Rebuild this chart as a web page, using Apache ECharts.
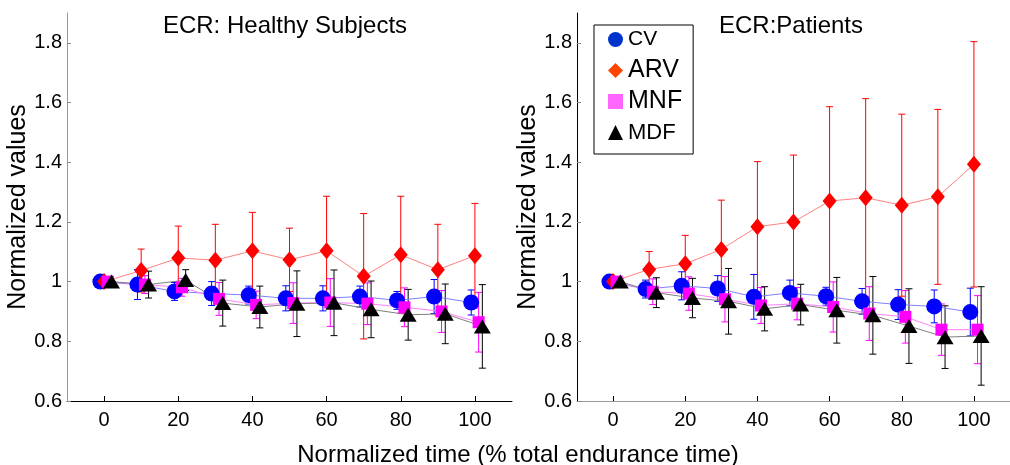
<!DOCTYPE html>
<html>
<head>
<meta charset="utf-8">
<script src="https://cdn.jsdelivr.net/npm/echarts@6/dist/echarts.min.js"></script>
<style>
  html, body { margin: 0; padding: 0; background: #fff; }
  #chart { width: 1010px; height: 465px; }
</style>
</head>
<body>
<div id="chart"></div>
<script>
// x positions (each variable is shifted a little so the markers don't overlap)
const timeCV = [-1, 9, 19, 29, 39, 49, 59, 69, 79, 89, 99]
const timeARV = [0, 10, 20, 30, 40, 50, 60, 70, 80, 90, 100]
const timeMNF = [1, 11, 21, 31, 41, 51, 61, 71, 81, 91, 101]
const timeMDF = [2, 12, 22, 32, 42, 52, 62, 72, 82, 92, 102]

const xTicks = [0, 20, 40, 60, 80, 100]
const yTicks = [0.6, 0.8, 1, 1.2, 1.4, 1.6, 1.8]

// healthy subjects: mean / sd
const healthyCV = [1.0, 0.99, 0.967, 0.96, 0.955, 0.944, 0.944, 0.95, 0.937, 0.95, 0.93]
const healthyCVsd = [0.01, 0.05, 0.03, 0.04, 0.03, 0.042, 0.042, 0.035, 0.03, 0.057, 0.042]
const healthyARV = [1.0, 1.037, 1.079, 1.072, 1.103, 1.073, 1.103, 1.018, 1.09, 1.04, 1.087]
const healthyARVsd = [0.01, 0.072, 0.107, 0.12, 0.129, 0.106, 0.183, 0.21, 0.196, 0.152, 0.175]
const healthyMNF = [1.0, 0.99, 0.981, 0.942, 0.922, 0.928, 0.93, 0.926, 0.914, 0.9, 0.864]
const healthyMNFsd = [0.01, 0.03, 0.03, 0.055, 0.046, 0.068, 0.08, 0.07, 0.065, 0.07, 0.1]
const healthyMDF = [1.0, 0.99, 1.005, 0.928, 0.915, 0.926, 0.929, 0.907, 0.889, 0.892, 0.85]
const healthyMDFsd = [0.01, 0.045, 0.035, 0.077, 0.07, 0.11, 0.11, 0.095, 0.085, 0.1, 0.14]

// patients: mean / sd
const patientCV = [1.0, 0.975, 0.986, 0.977, 0.949, 0.962, 0.951, 0.934, 0.923, 0.917, 0.898]
const patientCVsd = [0.01, 0.03, 0.047, 0.043, 0.075, 0.043, 0.03, 0.043, 0.05, 0.055, 0.08]
const patientARV = [1.0, 1.041, 1.06, 1.108, 1.184, 1.2, 1.27, 1.281, 1.256, 1.284, 1.393]
const patientARVsd = [0.01, 0.06, 0.095, 0.165, 0.218, 0.224, 0.316, 0.332, 0.305, 0.293, 0.411]
const patientMNF = [1.0, 0.966, 0.96, 0.941, 0.92, 0.926, 0.915, 0.893, 0.882, 0.839, 0.839]
const patientMNFsd = [0.01, 0.043, 0.056, 0.076, 0.06, 0.054, 0.084, 0.09, 0.088, 0.086, 0.114]
const patientMDF = [1.0, 0.963, 0.945, 0.934, 0.909, 0.923, 0.904, 0.887, 0.851, 0.814, 0.818]
const patientMDFsd = [0.01, 0.05, 0.066, 0.11, 0.074, 0.068, 0.11, 0.13, 0.125, 0.105, 0.165]

const FONT = '"Liberation Sans", Arial, sans-serif'

const styles = {
  CV: { symbol: 'circle', size: 16, color: '#0000ff', line: '#8080ff', legend: '#0033cc' },
  ARV: { symbol: 'diamond', size: [14, 17], color: '#ff0000', line: '#ff8080', legend: '#ff4400' },
  MNF: { symbol: 'rect', size: 12, color: '#ff00ff', line: '#ff80ff', legend: '#ff66ff' },
  MDF: { symbol: 'triangle', size: [17, 14], color: '#000000', line: '#808080', legend: '#000000' }
}

function errorBar(name, xs, ys, sd, color, idx) {
  return {
    name: name + ' sd',
    type: 'custom',
    xAxisIndex: idx,
    yAxisIndex: idx,
    silent: true,
    encode: { x: 0, y: 1 },
    data: xs.map((x, i) => [x, ys[i], sd[i]]),
    renderItem: (params, api) => {
      const x = api.value(0)
      const y = api.value(1)
      const e = api.value(2)
      const top = api.coord([x, y + e])
      const bot = api.coord([x, y - e])
      const cap = 3.5
      const st = { stroke: color, lineWidth: 1 }
      return {
        type: 'group',
        children: [
          { type: 'line', shape: { x1: top[0], y1: top[1], x2: bot[0], y2: bot[1] }, style: st },
          { type: 'line', shape: { x1: top[0] - cap, y1: top[1], x2: top[0] + cap, y2: top[1] }, style: st },
          { type: 'line', shape: { x1: bot[0] - cap, y1: bot[1], x2: bot[0] + cap, y2: bot[1] }, style: st }
        ]
      }
    }
  }
}

function meanLine(name, xs, ys, idx) {
  const s = styles[name]
  return {
    name,
    type: 'line',
    xAxisIndex: idx,
    yAxisIndex: idx,
    data: xs.map((x, i) => [x, ys[i]]),
    symbol: s.symbol,
    symbolSize: s.size,
    showAllSymbol: true,
    lineStyle: { color: s.line, width: 1 },
    itemStyle: { color: s.color },
    emphasis: { disabled: true }
  }
}

function panel(idx, sets) {
  const out = []
  sets.forEach(([name, xs, ys, sd]) => {
    out.push(errorBar(name, xs, ys, sd, styles[name].color, idx))
    out.push(meanLine(name, xs, ys, idx))
  })
  return out
}

function xAxisFor(idx, lineColor) {
  return {
    type: 'value',
    gridIndex: idx,
    min: -10,
    max: 110,
    splitLine: { show: false },
    axisLine: { onZero: false, lineStyle: { color: lineColor, width: 1 } },
    axisTick: { inside: true, length: 5, customValues: xTicks, lineStyle: { color: '#000' } },
    axisLabel: { customValues: xTicks, margin: 9, fontSize: 20, color: '#000', fontFamily: FONT }
  }
}

function yAxisFor(idx, lineColor) {
  return {
    type: 'value',
    gridIndex: idx,
    min: 0.6,
    max: 1.9,
    name: 'Normalized values',
    nameLocation: 'middle',
    nameGap: 34,
    nameTextStyle: { fontSize: 25, color: '#000', fontFamily: FONT },
    splitLine: { show: false },
    axisLine: { onZero: false, lineStyle: { color: lineColor, width: 1 } },
    axisTick: { inside: true, length: 4, customValues: yTicks, lineStyle: { color: '#888' } },
    axisLabel: {
      customValues: yTicks,
      margin: 5,
      fontSize: 20,
      color: '#000',
      fontFamily: FONT,
      formatter: (v) => String(Math.round(v * 10) / 10)
    }
  }
}

const chart = echarts.init(document.getElementById('chart'))

chart.setOption({
  backgroundColor: '#fff',
  animation: false,
  grid: [
    { left: 67, top: 13, width: 445, height: 388 },
    { left: 577, top: 13, width: 443, height: 388 }
  ],
  xAxis: [xAxisFor(0, '#000'), xAxisFor(1, '#999')],
  yAxis: [yAxisFor(0, '#999'), yAxisFor(1, '#000')],
  legend: {
    orient: 'vertical',
    left: 594,
    top: 25,
    padding: [0, 11, 7, 14],
    itemGap: 2,
    itemWidth: 15,
    itemHeight: 15,
    itemTextGap: 9,
    borderColor: '#000',
    borderWidth: 1,
    backgroundColor: '#fff',
    selectedMode: false,
    data: ['CV', 'ARV', 'MNF', 'MDF'].map((n) => ({
      name: n,
      icon: styles[n].symbol,
      itemStyle: { color: styles[n].legend }
    })),
    formatter: (name) => '{' + name + '|' + name + '}',
    textStyle: {
      color: '#000',
      fontFamily: FONT,
      lineHeight: 29,
      rich: {
        CV: { fontSize: 21, height: 29, lineHeight: 29, fontFamily: FONT },
        ARV: { fontSize: 25, height: 29, lineHeight: 29, fontFamily: FONT },
        MNF: { fontSize: 25, height: 29, lineHeight: 29, fontFamily: FONT },
        MDF: { fontSize: 22, height: 29, lineHeight: 29, fontFamily: FONT }
      }
    }
  },
  graphic: [
    {
      type: 'text', x: 285, y: 26, silent: true,
      style: { text: 'ECR: Healthy Subjects', fill: '#000', font: '24px ' + FONT, align: 'center', verticalAlign: 'middle' }
    },
    {
      type: 'text', x: 791, y: 26, silent: true,
      style: { text: 'ECR:Patients', fill: '#000', font: '24px ' + FONT, align: 'center', verticalAlign: 'middle' }
    },
    {
      type: 'text', x: 518, y: 455, silent: true,
      style: { text: 'Normalized time (% total endurance time)', fill: '#000', font: '24px ' + FONT, align: 'center', verticalAlign: 'middle' }
    }
  ],
  series: [
    ...panel(0, [
      ['CV', timeCV, healthyCV, healthyCVsd],
      ['ARV', timeARV, healthyARV, healthyARVsd],
      ['MNF', timeMNF, healthyMNF, healthyMNFsd],
      ['MDF', timeMDF, healthyMDF, healthyMDFsd]
    ]),
    ...panel(1, [
      ['CV', timeCV, patientCV, patientCVsd],
      ['ARV', timeARV, patientARV, patientARVsd],
      ['MNF', timeMNF, patientMNF, patientMNFsd],
      ['MDF', timeMDF, patientMDF, patientMDFsd]
    ])
  ]
})

window.addEventListener('resize', () => chart.resize())
</script>
</body>
</html>
